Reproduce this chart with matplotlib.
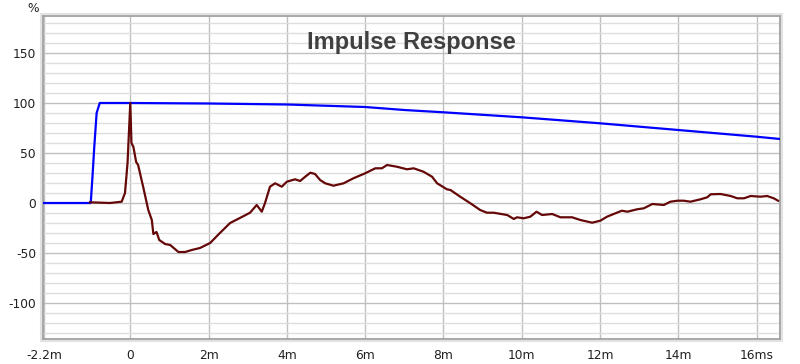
import matplotlib
matplotlib.use('Agg')
import matplotlib.pyplot as plt
from matplotlib.patches import Rectangle
from matplotlib.ticker import MultipleLocator, FixedLocator

plt.rcParams['font.family'] = ['DejaVu Sans']
plt.rcParams['axes.unicode_minus'] = False

# step response (blue), time in ms, value in %
step_t = [-2.23, -1.01, -0.96, -0.92, -0.86, -0.78, 0, 2, 4, 6, 7, 8, 10, 12, 14, 16, 16.6]
step_v = [0, 0, 30, 56, 90, 100, 100, 99.5, 98.5, 96, 93, 90.7, 85.7, 79.7, 73, 66.3, 64]

# impulse response (dark red), time in ms, value in %
imp_t = [-1.03, -0.52, -0.22, -0.135, -0.07, 0, 0.03, 0.08, 0.15, 0.2, 0.33, 0.46,
         0.55, 0.59, 0.67, 0.74, 0.89, 1.02, 1.23, 1.40, 1.57, 1.78, 2.04, 2.29, 2.55,
         2.85, 3.06, 3.23, 3.36, 3.44, 3.57, 3.70, 3.87, 4.0, 4.21, 4.34, 4.47, 4.60,
         4.72, 4.85, 4.98, 5.19, 5.45, 5.70, 6.0, 6.26, 6.43, 6.56, 6.81, 7.07, 7.24,
         7.49, 7.71, 7.84, 8.09, 8.18, 8.43, 8.69, 8.94, 9.11, 9.28, 9.63, 9.80, 9.88,
         10.05, 10.22, 10.38, 10.52, 10.78, 10.99, 11.29, 11.50, 11.80, 12.01, 12.18,
         12.35, 12.56, 12.70, 12.95, 13.12, 13.34, 13.63, 13.80, 13.98, 14.14, 14.31,
         14.57, 14.74, 14.83, 15.08, 15.34, 15.51, 15.68, 15.85, 16.10, 16.27, 16.44, 16.55]
imp_v = [0.7, 0, 1.3, 10, 40, 100, 60, 56, 41, 38, 16, -7,
         -17, -31, -29, -37, -41, -42, -49, -49, -47, -45, -40, -30, -20,
         -14, -9.7, -2, -8.7, -0.3, 16.3, 19.7, 16.3, 21.3, 23.7, 22, 26.3, 30.3,
         29, 23, 19.7, 17.3, 19.7, 24.7, 29.7, 34.7, 34.7, 38, 36.3, 33.7, 34.7,
         31.3, 26.3, 19.7, 13.7, 13, 6.3, -0.3, -7, -9.7, -9.7, -12, -16, -14.3,
         -15.3, -13.7, -8.7, -12, -11, -14.3, -14.3, -17, -19.7, -17.7, -13.7,
         -11, -7.7, -8.7, -6.3, -5.3, -1, -2, 1.3, 2.3, 2.3, 1.3,
         3.7, 5.7, 8.7, 9, 7, 4.7, 4.7, 7, 6.3, 7, 4.7, 2.3]

x_ticks = [-2.2, 0, 2, 4, 6, 8, 10, 12, 14, 16]
x_labels = ['-2.2m', '0', '2m', '4m', '6m', '8m', '10m', '12m', '14m', '16ms']
y_ticks = [-100, -50, 0, 50, 100, 150]

fig = plt.figure(figsize=(8, 3.64), dpi=100)
ax = fig.add_axes([43 / 800, 1 - 339 / 364, 737 / 800, 323 / 364])

# soft frame shadow like the original
fig.patches.append(Rectangle((41 / 800, 1 - 341 / 364), 741 / 800, 327 / 364,
                             transform=fig.transFigure, facecolor='none',
                             edgecolor='#e2e2e2', linewidth=1.5, zorder=0))

ax.plot(step_t, step_v, color='#0000ff', linewidth=1.6, zorder=3)
ax.plot(imp_t, imp_v, color='#650808', linewidth=1.6, zorder=4)

ax.set_xlim(-2.23, 16.6)
ax.set_ylim(-136, 187)

ax.xaxis.set_major_locator(FixedLocator(x_ticks))
ax.set_xticklabels(x_labels)
ax.yaxis.set_major_locator(FixedLocator(y_ticks))
ax.yaxis.set_minor_locator(MultipleLocator(10))

ax.grid(which='major', color='#c0c0c0', linewidth=1.0)
ax.grid(which='minor', axis='y', color='#dedede', linewidth=1.0)
ax.set_axisbelow(True)

ax.tick_params(which='both', length=0, labelsize=8.8, colors='#202020')
ax.tick_params(axis='x', pad=7)
ax.tick_params(axis='y', pad=5)

for sp in ax.spines.values():
    sp.set_color('#a0a0a0')
    sp.set_linewidth(1.3)

ax.text(0.5, 0.955, 'Impulse Response', transform=ax.transAxes, ha='center', va='top',
        fontsize=17, fontweight='bold', color='#404040', family='Liberation Sans')
fig.text(33 / 800, 1 - 8 / 364, '%', ha='center', va='center', fontsize=8.8, color='#202020')

fig.savefig('out.png', dpi=100)
